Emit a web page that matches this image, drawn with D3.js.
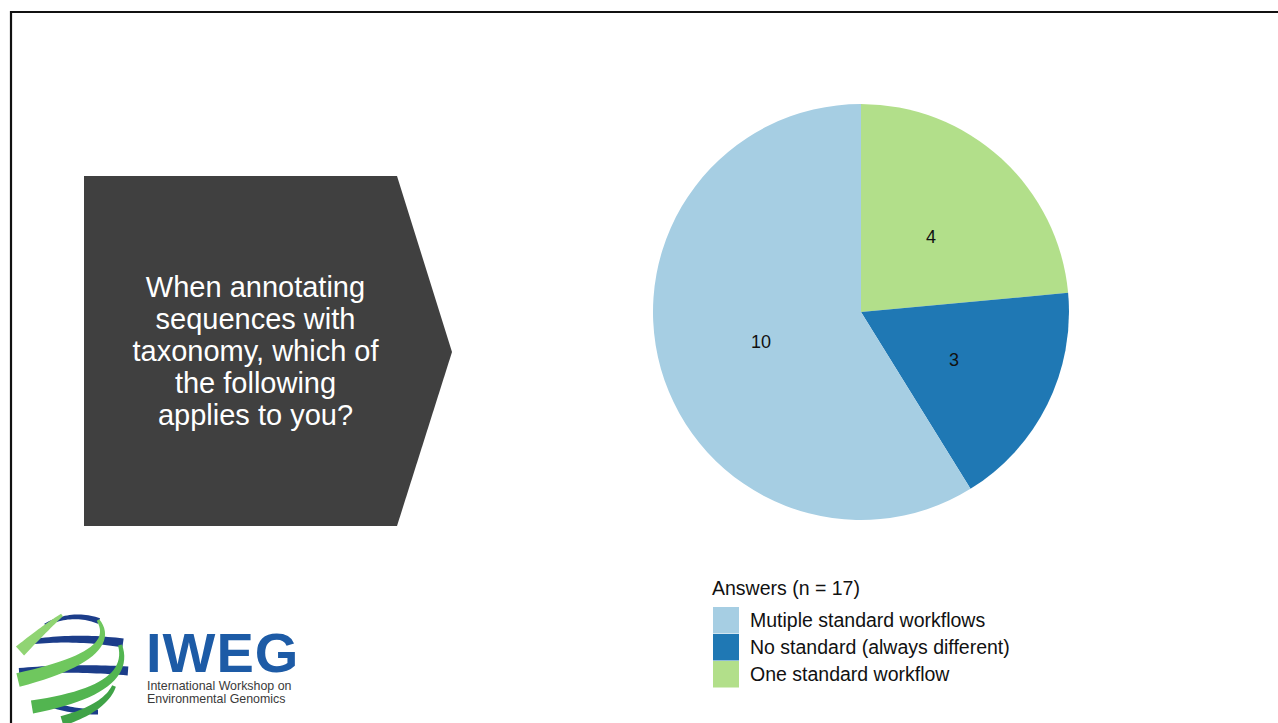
<!DOCTYPE html>
<html>
<head>
<meta charset="utf-8">
<script src="https://cdn.jsdelivr.net/npm/d3@7"></script>
<style>
  html, body { margin: 0; padding: 0; background: #ffffff; }
  svg { display: block; font-family: "Liberation Sans", Arial, sans-serif; }
</style>
</head>
<body>
<svg id="chart" width="1278" height="723"></svg>
<script>
// Survey answers
const categories = ["Mutiple standard workflows", "No standard (always different)", "One standard workflow"];
const counts = [10, 3, 4];
const colours = ["#a6cee3", "#1f78b4", "#b2df8a"];
// slices run clockwise from 12 o'clock in this order (indices into categories)
const sliceOrder = [2, 1, 0];
const legendTitle = "Answers (n = 17)";
const questionLines = ["When annotating", "sequences with", "taxonomy, which of", "the following", "applies to you?"];

const svg = d3.select("#chart");

// Slide frame
svg.append("path")
  .attr("d", "M11,723 V12 H1278")
  .attr("fill", "none")
  .attr("stroke", "#111")
  .attr("stroke-width", 2.2);

// Question arrow box
svg.append("polygon")
  .attr("points", "84,176 397,176 452,352 397,526 84,526")
  .attr("fill", "#404040");

svg.append("g")
  .selectAll("text")
  .data(questionLines)
  .join("text")
  .attr("x", 255.5)
  .attr("y", (d, i) => 297 + i * 32)
  .attr("text-anchor", "middle")
  .attr("fill", "#ffffff")
  .attr("font-size", 29)
  .text(d => d);

// Pie
const cx = 861, cy = 312, R = 208;
const colour = d3.scaleOrdinal().domain(categories).range(colours);
const pie = d3.pie().sort(null).value(i => counts[i]);
const arcs = pie(sliceOrder);
const arc = d3.arc().innerRadius(0).outerRadius(R);
const labelArc = d3.arc().innerRadius(R * 0.5).outerRadius(R * 0.5);

const pieG = svg.append("g").attr("transform", `translate(${cx},${cy})`);
pieG.selectAll("path")
  .data(arcs)
  .join("path")
  .attr("d", arc)
  .attr("fill", d => colour(categories[d.data]));

pieG.selectAll("text")
  .data(arcs)
  .join("text")
  .attr("transform", d => `translate(${labelArc.centroid(d)})`)
  .attr("text-anchor", "middle")
  .attr("dy", "0.42em")
  .attr("font-size", 18)
  .attr("fill", "#111")
  .text(d => counts[d.data]);

// Legend
const legend = svg.append("g").attr("transform", "translate(712,0)");
legend.append("text")
  .attr("x", 0).attr("y", 595)
  .attr("font-size", 19.5)
  .attr("fill", "#111")
  .text(legendTitle);

const rows = legend.selectAll("g.row")
  .data(categories)
  .join("g")
  .attr("class", "row")
  .attr("transform", (d, i) => `translate(0,${607 + i * 27})`);
rows.append("rect")
  .attr("x", 1).attr("y", 0)
  .attr("width", 26).attr("height", 26.5)
  .attr("fill", d => colour(d));
rows.append("text")
  .attr("x", 38).attr("y", 20)
  .attr("font-size", 19.5)
  .attr("fill", "#111")
  .text(d => d);

// Workshop logo: globe of tapered ribbons along quadratic curves
function ribbon(p0, c, p2, w0, w1) {
  const left = [], right = [];
  const n = 24;
  for (let k = 0; k <= n; k++) {
    const t = k / n, u = 1 - t;
    const x = u * u * p0[0] + 2 * u * t * c[0] + t * t * p2[0];
    const y = u * u * p0[1] + 2 * u * t * c[1] + t * t * p2[1];
    const dx = 2 * u * (c[0] - p0[0]) + 2 * t * (p2[0] - c[0]);
    const dy = 2 * u * (c[1] - p0[1]) + 2 * t * (p2[1] - c[1]);
    const len = Math.hypot(dx, dy) || 1;
    const w = (w0 + (w1 - w0) * t) / 2;
    left.push([x - dy / len * w, y + dx / len * w]);
    right.push([x + dy / len * w, y - dx / len * w]);
  }
  return d3.line()(left.concat(right.reverse())) + "Z";
}

const logo = svg.append("g");
const navyBands = [
  {p0: [45, 625], c: [72, 611], p2: [99, 621], w0: 3, w1: 6},
  {p0: [30, 642], c: [76, 636], p2: [123, 643], w0: 5, w1: 9},
  {p0: [19, 671], c: [74, 667], p2: [128, 671], w0: 6, w1: 9},
  {p0: [47, 703], c: [72, 712], p2: [98, 712], w0: 6, w1: 5}
];
const greenBands = [
  {p0: [62, 615], c: [45, 628], p2: [20, 651], w0: 3, w1: 12, col: "#90d473"},
  {p0: [98, 620], c: [122, 655], p2: [18, 680], w0: 3, w1: 14, col: "#6fc75e"},
  {p0: [120, 645], c: [134, 690], p2: [32, 707], w0: 4, w1: 13, col: "#52b550"},
  {p0: [114, 686], c: [105, 708], p2: [62, 721], w0: 4, w1: 10, col: "#40a347"}
];
logo.selectAll("path.navy")
  .data(navyBands)
  .join("path")
  .attr("class", "navy")
  .attr("d", d => ribbon(d.p0, d.c, d.p2, d.w0, d.w1))
  .attr("fill", "#1c3d8a");
logo.selectAll("path.green")
  .data(greenBands)
  .join("path")
  .attr("class", "green")
  .attr("d", d => ribbon(d.p0, d.c, d.p2, d.w0, d.w1))
  .attr("fill", d => d.col);

logo.append("text")
  .attr("x", 146).attr("y", 672)
  .attr("font-size", 56)
  .attr("font-weight", "bold")
  .attr("fill", "#1d5ba6")
  .attr("letter-spacing", 1)
  .text("IWEG");
logo.append("text")
  .attr("x", 147).attr("y", 690)
  .attr("font-size", 12.4)
  .attr("fill", "#3a3a3a")
  .text("International Workshop on");
logo.append("text")
  .attr("x", 147).attr("y", 702.5)
  .attr("font-size", 12.4)
  .attr("fill", "#3a3a3a")
  .text("Environmental Genomics");
</script>
</body>
</html>
